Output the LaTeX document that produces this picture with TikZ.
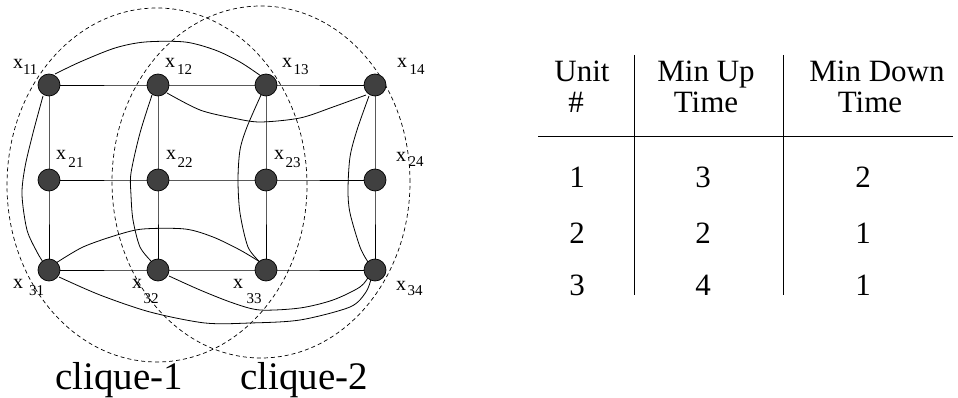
\documentclass[tikz,border=0pt]{standalone}
\usepackage{fontspec}
\usetikzlibrary{shapes.geometric}
\setmainfont{Liberation Serif}
\newcommand{\xsub}[3]{\fontsize{20}{20}\selectfont x\hspace{#1pt}\raisebox{-#2pt}{\fontsize{15}{15}\selectfont #3}}
\begin{document}
\begin{tikzpicture}[x=1pt,y=-1pt,
  dot/.style={circle,draw=black,fill=black!75,minimum size=22pt,inner sep=0pt,line width=0.7pt},
  lab/.style={anchor=base west,inner sep=0pt,outer sep=0pt},
  edge/.style={line width=0.8pt},
  clq/.style={dashed,dash pattern=on 4pt off 3pt,line width=0.7pt},
  tab/.style={anchor=base,inner sep=0pt,font=\fontsize{31}{31}\selectfont},
  big/.style={anchor=base west,inner sep=0pt,font=\fontsize{39}{39}\selectfont}]
\useasboundingbox (0,0) rectangle (958,398);
% labels
\node[lab] (l11) at (13,69) {\xsub{0}{6}{11}};
\node[lab] (l12) at (165,68) {\xsub{2}{7}{12}};
\node[lab] (l13) at (282,68) {\xsub{1.5}{7}{13}};
\node[lab] (l14) at (397,68) {\xsub{2.5}{7}{14}};
\node[lab] (l21) at (56,160) {\xsub{2.5}{8}{21}};
\node[lab] (l22) at (166,160) {\xsub{1.5}{8}{22}};
\node[lab] (l23) at (274,160) {\xsub{1.5}{8}{23}};
\node[lab] (l24) at (396,162) {\xsub{2.5}{5}{24}};
\node[lab] (l31) at (13,288) {\xsub{6}{7}{31}};
\node[lab] (l32) at (132,288) {\xsub{1.5}{15}{32}};
\node[lab] (l33) at (233,288) {\xsub{3.5}{15}{33}};
\node[lab] (l34) at (396,290) {\xsub{1.5}{5}{34}};
% cliques
\node[draw,clq,ellipse,minimum width=300pt,minimum height=354pt,inner sep=0pt] (c1) at (157,185) {};
\node[draw,clq,ellipse,minimum width=298pt,minimum height=352pt,inner sep=0pt] (c2) at (261,182) {};
\node[big] (t1) at (55,389) {clique-1};
\node[big] (t2) at (240,389) {clique-2};
% nodes
\foreach \c/\xx in {1/49,2/158,3/266,4/375}{
  \coordinate (p1\c) at (\xx,85);
  \coordinate (p2\c) at (\xx,180);
  \coordinate (p3\c) at (\xx,270);
}
% grid lines
\foreach \r in {1,2,3}{
  \draw[edge] (p\r1) -- (p\r2) -- (p\r3) -- (p\r4);
}
\foreach \c in {1,2,3,4}{
  \draw[edge] (p1\c) -- (p2\c) -- (p3\c);
}
% curved edges
\draw[edge] plot[smooth,tension=0.5] coordinates {(55,74) (80,62) (115,48) (145,42) (185,42) (215,50) (240,62) (261,76)};
\draw[edge] plot[smooth,tension=0.5] coordinates {(167,93) (200,110) (233,118) (260,122) (300,118) (333,107) (366,95)};
\draw[edge] plot[smooth,tension=0.5] coordinates {(43,96) (33,133) (25,167) (22,195) (27,230) (37,252) (43,262)};
\draw[edge] plot[smooth,tension=0.5] coordinates {(152,95) (140,133) (131,173) (131,195) (133,220) (140,247) (152,262)};
\draw[edge] plot[smooth,tension=0.5] coordinates {(261,95) (247,127) (240,150) (238,180) (240,213) (248,247) (260,262)};
\draw[edge] plot[smooth,tension=0.5] coordinates {(369,96) (357,130) (350,157) (348,190) (350,213) (360,247) (368,262)};
\draw[edge] plot[smooth,tension=0.5] coordinates {(56,263) (83,247) (117,235) (143,229) (185,229) (213,237) (240,250) (260,262)};
\draw[edge] plot[smooth,tension=0.5] coordinates {(169,276) (200,290) (233,303) (260,310) (300,308) (333,300) (360,287) (369,276)};
\draw[edge] plot[smooth,tension=0.5] coordinates {(59,277) (100,295) (150,312) (205,323) (250,323) (300,320) (350,307) (366,292) (371,279)};
% dots on top
\foreach \r in {1,2,3}{\foreach \c in {1,2,3,4}{
  \node[dot] (n\r\c) at (p\r\c) {};
}}
% table
\draw[line width=0.8pt] (634,55) coordinate (v1a) -- (634,295) coordinate (v1b);
\draw[line width=0.8pt] (783,55) coordinate (v2a) -- (783,295) coordinate (v2b);
\draw[line width=0.8pt] (538,136) coordinate (ha) -- (953,136) coordinate (hb);
\node[tab] (h1) at (582,82) {Unit};
\node[tab] (h1b) at (576,113) {\#};
\node[tab] (h2) at (706,82) {Min Up};
\node[tab] (h2b) at (706,113) {Time};
\node[tab] (h3) at (877,82) {Min Down};
\node[tab] (h3b) at (870,113) {Time};
\node[tab] (a1) at (577,188) {1};
\node[tab] (a2) at (703,188) {3};
\node[tab] (a3) at (863,188) {2};
\node[tab] (b1) at (577,243) {2};
\node[tab] (b2) at (703,243) {2};
\node[tab] (b3) at (863,243) {1};
\node[tab] (d1) at (577,295) {3};
\node[tab] (d2) at (703,295) {4};
\node[tab] (d3) at (863,295) {1};
\end{tikzpicture}
\end{document}
